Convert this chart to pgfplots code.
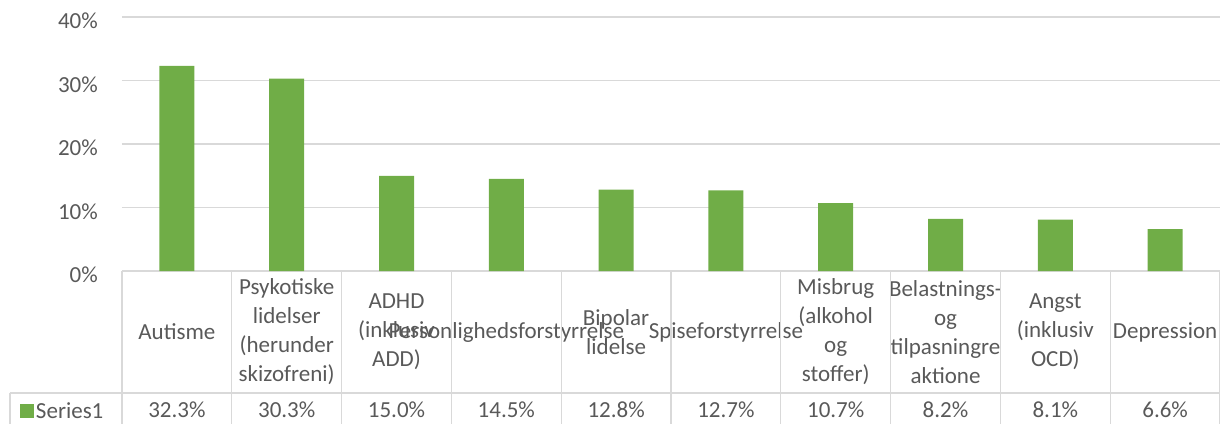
\documentclass[border=0pt]{standalone}
\usepackage{pgfplots}
\pgfplotsset{compat=1.18}
\usepackage{pgfplotstable}
\usepackage{fontspec}
\setmainfont{Carlito}
\definecolor{barG}{HTML}{70AD47}
\definecolor{txt}{HTML}{595959}
\definecolor{grd}{HTML}{D9D9D9}

\pgfplotstableread{
x v
0 32.3
1 30.3
2 15.0
3 14.5
4 12.8
5 12.7
6 10.7
7 8.2
8 8.1
9 6.6
}\data

\newcommand{\ff}{\fontsize{23}{29}\selectfont}

\begin{document}
\begin{tikzpicture}
\useasboundingbox (-122pt,-152pt) rectangle (1098pt,271pt);
\begin{axis}[
  at={(0pt,0pt)}, anchor=south west,
  scale only axis, width=1098pt, height=254pt,
  xmin=-0.5, xmax=9.5, ymin=0, ymax=40,
  axis line style={draw=none},
  major tick length=0pt,
  ytick={0,10,20,30,40},
  yticklabel={\pgfmathprintnumber{\tick}\%},
  ymajorgrids, grid style={grd, line width=1.3pt},
  xtick={0,1,2,3,4,5,6,7,8,9},
  xticklabels={{Autisme},{Psykotiske\\lidelser\\(herunder\\skizofreni)},{ADHD\\(inklusiv\\ADD)},{Personlighedsforstyrrelse},{Bipolar\\lidelse},{Spiseforstyrrelse},{Misbrug\\(alkohol\\og\\stoffer)},{Belastnings-\\og\\tilpasningre\\aktione},{Angst\\(inklusiv\\OCD)},{Depression}},
  xticklabel style={anchor=center, yshift=-61pt, align=center, text=txt, font=\ff, inner sep=0pt},
  yticklabel style={anchor=east, xshift=-24pt, yshift=-4pt, text=txt, font=\ff, inner sep=0pt},
  /pgf/number format/assume math mode=true,
  clip=false,
  legend style={at={(-0.0929,-0.551)}, anchor=west, draw=none, fill=none, inner sep=0pt, outer sep=0pt, font=\ff, text=txt},
  legend image code/.code={\fill[#1, draw=none] (0pt,-7pt) rectangle (14pt,7pt);},
]
\addplot[ybar, bar width=35pt, fill=barG, draw=none] table[x=x, y=v] {\data};
\addlegendentry{Series1}
\addplot[draw=none, mark=none, forget plot, point meta=explicit,
  nodes near coords={\pgfmathprintnumber[fixed, fixed zerofill, precision=1]{\pgfplotspointmeta}\%},
  nodes near coords align={anchor=center},
  every node near coord/.style={anchor=center, text=txt, font=\ff, inner sep=0pt}]
  table[x=x, y expr=-21.9, meta=v] {\data};
\pgfplotsinvokeforeach{-0.5,0.5,...,9.5}{
  \draw[grd, line width=1.3pt] (axis cs:#1,0) -- (axis cs:#1,-24.5);
}
\draw[grd, line width=1.3pt] (axis cs:-1.52,-19.21) -- (axis cs:9.5,-19.21);
\draw[grd, line width=1.3pt] (axis cs:-1.52,-19.21) -- (axis cs:-1.52,-24.5);
\end{axis}
\end{tikzpicture}
\end{document}
